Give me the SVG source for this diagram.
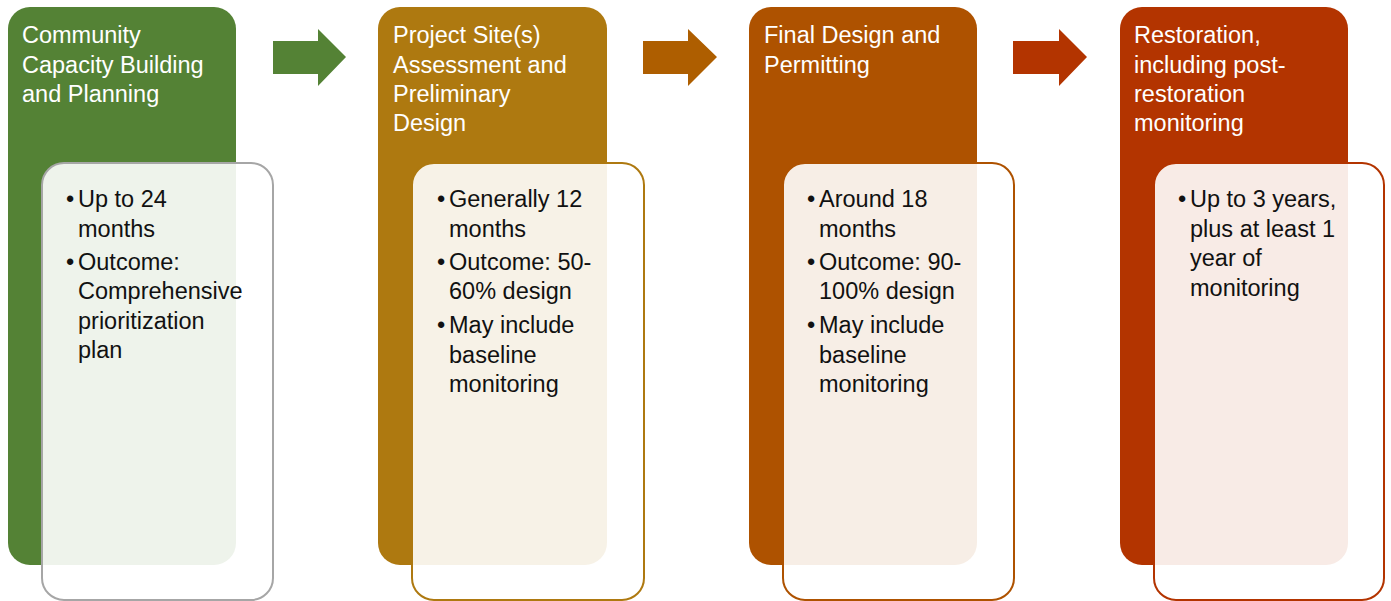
<svg xmlns="http://www.w3.org/2000/svg" width="1391" height="601" viewBox="0 0 1391 601">
<style>
  .title { font-family: "Liberation Sans", Arial, sans-serif; font-size: 23.5px; fill: #ffffff; }
  .body { font-family: "Liberation Sans", Arial, sans-serif; font-size: 23.5px; fill: #111111; }
  .inner { fill: #ffffff; fill-opacity: 0.9; stroke-width: 2; }
</style>
<rect width="1391" height="601" fill="#ffffff"/>

<g id="connectors">
  <polygon points="273,41 318,41 318,29 346,57 318,86 318,74 273,74" fill="#548235"/>
  <polygon points="643,41 688,41 688,29 717,57 688,86 688,74 643,74" fill="#AE5E00"/>
  <polygon points="1013,41 1059,41 1059,29 1087,57 1059,86 1059,74 1013,74" fill="#B33400"/>
</g>

<g id="node1">
  <rect x="8" y="7" width="228" height="558" rx="22" fill="#548235"/>
  <text class="title"><tspan x="22" y="43">Community</tspan><tspan x="22" y="73">Capacity Building</tspan><tspan x="22" y="102">and Planning</tspan></text>
  <rect class="inner" x="42" y="163" width="231" height="437" rx="22" stroke="#A6A6A6"/>
  <text class="body"><tspan x="66" y="207">•</tspan><tspan x="78" y="207">Up to 24</tspan><tspan x="78" y="237">months</tspan><tspan x="66" y="270">•</tspan><tspan x="78" y="270">Outcome:</tspan><tspan x="78" y="299">Comprehensive</tspan><tspan x="78" y="329">prioritization</tspan><tspan x="78" y="358">plan</tspan></text>
</g>

<g id="node2">
  <rect x="378" y="7" width="229" height="558" rx="22" fill="#AE7910"/>
  <text class="title"><tspan x="393" y="43">Project Site(s)</tspan><tspan x="393" y="73">Assessment and</tspan><tspan x="393" y="102">Preliminary</tspan><tspan x="393" y="131">Design</tspan></text>
  <rect class="inner" x="412" y="163" width="232" height="437" rx="22" stroke="#AE7910"/>
  <text class="body"><tspan x="437" y="207">•</tspan><tspan x="449" y="207">Generally 12</tspan><tspan x="449" y="237">months</tspan><tspan x="437" y="270">•</tspan><tspan x="449" y="270">Outcome: 50-</tspan><tspan x="449" y="299">60% design</tspan><tspan x="437" y="333">•</tspan><tspan x="449" y="333">May include</tspan><tspan x="449" y="363">baseline</tspan><tspan x="449" y="392">monitoring</tspan></text>
</g>

<g id="node3">
  <rect x="749" y="7" width="228" height="558" rx="22" fill="#AE5200"/>
  <text class="title"><tspan x="764" y="43">Final Design and</tspan><tspan x="764" y="73">Permitting</tspan></text>
  <rect class="inner" x="783" y="163" width="231" height="437" rx="22" stroke="#AE5200"/>
  <text class="body"><tspan x="807" y="207">•</tspan><tspan x="819" y="207">Around 18</tspan><tspan x="819" y="237">months</tspan><tspan x="807" y="270">•</tspan><tspan x="819" y="270">Outcome: 90-</tspan><tspan x="819" y="299">100% design</tspan><tspan x="807" y="333">•</tspan><tspan x="819" y="333">May include</tspan><tspan x="819" y="363">baseline</tspan><tspan x="819" y="392">monitoring</tspan></text>
</g>

<g id="node4">
  <rect x="1120" y="7" width="228" height="558" rx="22" fill="#B33400"/>
  <text class="title"><tspan x="1134" y="43">Restoration,</tspan><tspan x="1134" y="73">including post-</tspan><tspan x="1134" y="102">restoration</tspan><tspan x="1134" y="131">monitoring</tspan></text>
  <rect class="inner" x="1154" y="163" width="230" height="437" rx="22" stroke="#B33400"/>
  <text class="body"><tspan x="1178" y="207">•</tspan><tspan x="1190" y="207">Up to 3 years,</tspan><tspan x="1190" y="237">plus at least 1</tspan><tspan x="1190" y="266">year of</tspan><tspan x="1190" y="296">monitoring</tspan></text>
</g>
</svg>
